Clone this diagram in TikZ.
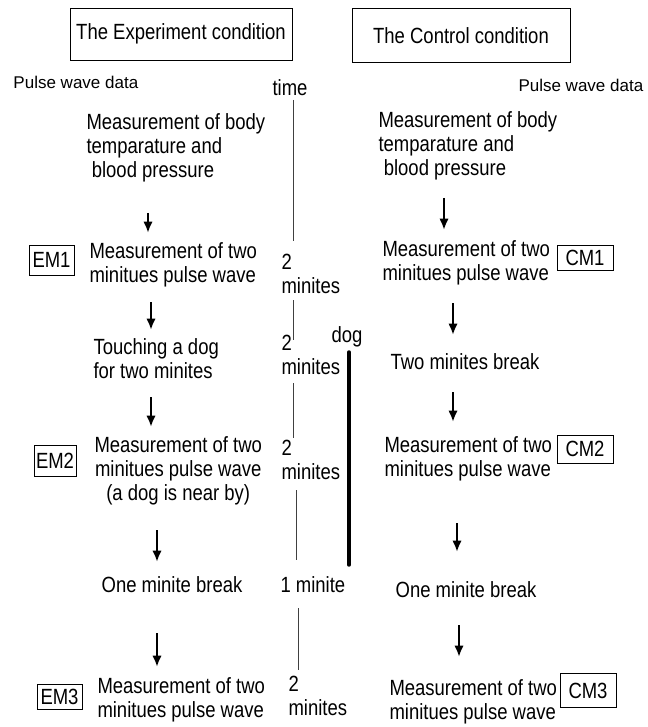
\documentclass[tikz,border=0pt]{standalone}
\usepackage{fontspec}
\setmainfont{Liberation Sans}[FakeStretch=0.84]
\newfontfamily\datafont{Liberation Sans}
\usetikzlibrary{arrows.meta}
\newcommand{\flowfont}{\fontsize{16.5}{18}\selectfont}
\newcommand{\smallfont}{\datafont\fontsize{12.75}{15}\selectfont}
\tikzset{every picture/.style={line width=0.75pt}}
\tikzset{
	steptext/.style={font=\flowfont, inner sep=0pt, align=left, anchor=west},
	breaktext/.style={font=\flowfont, inner sep=0pt},
	titlebox/.style={draw, line width=0.6pt, font=\flowfont, inner sep=0pt},
	markbox/.style={draw, line width=0.6pt, font=\flowfont, inner sep=0pt},
	datalabel/.style={font=\smallfont, inner sep=0pt, anchor=west},
	timetext/.style={font=\flowfont, inner sep=0pt, align=left, anchor=west},
	flowarrow/.style={line width=1.7pt, -{Latex[length=8.5pt,width=7pt]}},
	timeline/.style={line width=0.6pt, black!75},
	dogline/.style={line width=2.6pt, line cap=round}}

\begin{document}
\begin{tikzpicture}[x=0.75pt,y=0.75pt,yscale=-1,xscale=1]
	\useasboundingbox (0,0) rectangle (647,727);

	% Title boxes
	\node[titlebox, minimum width=166.5pt, minimum height=39pt] (expcond) at (181,34) {The Experiment condition};
	\node[titlebox, minimum width=163.5pt, minimum height=41pt] (ctrlcond) at (461,35.5) {The Control condition};

	% Text Node
	\node[datalabel] (ldata) at (13,82) {Pulse wave data};
	\node[datalabel] (rdata) at (518,85) {Pulse wave data};
	\node[breaktext] (time) at (290,88) {time};

	% Experiment condition
	\node[steptext] (lbody) at (86,148) {Measurement of body\\temparature and\\\hspace*{4pt}blood pressure};
	\node[steptext] (lm1) at (89,265) {Measurement of two\\minitues pulse wave};
	\node[steptext] (ltouch) at (93,358.5) {Touching a dog\\for two minites};
	\node[steptext, align=center] (lm2) at (94,471) {Measurement of two\\minitues pulse wave\\(a dog is near by)};
	\node[breaktext] (lbreak) at (172,585) {One minite break};
	\node[steptext] (lm3) at (97,700) {Measurement of two\\minitues pulse wave};

	\node[markbox, minimum width=33.75pt, minimum height=22.5pt] (em1) at (51.5,260) {EM1};
	\node[markbox, minimum width=31.5pt, minimum height=23.25pt] (em2) at (55,460.5) {EM2};
	\node[markbox, minimum width=33.75pt, minimum height=18.75pt] (em3) at (59.5,696.5) {EM3};

	% Control condition
	\node[steptext] (rbody) at (378,146) {Measurement of body\\temparature and\\\hspace*{4pt}blood pressure};
	\node[steptext] (rm1) at (382,263) {Measurement of two\\minitues pulse wave};
	\node[breaktext] (rbreaka) at (465,362) {Two minites break};
	\node[steptext] (rm2) at (384,459) {Measurement of two\\minitues pulse wave};
	\node[breaktext] (rbreakb) at (466,590) {One minite break};
	\node[steptext] (rm3) at (389,702) {Measurement of two\\minitues pulse wave};

	\node[markbox, minimum width=42pt, minimum height=18.75pt] (cm1) at (585,257.5) {CM1};
	\node[markbox, minimum width=42pt, minimum height=21pt] (cm2) at (585,449) {CM2};
	\node[markbox, minimum width=42pt, minimum height=26pt] (cm3) at (588,690.5) {CM3};

	% Time column
	\node[timetext] (tma) at (281,274) {2\\minites};
	\node[timetext] (tmb) at (281,355) {2\\minites};
	\node[timetext] (tmc) at (281,459.5) {2\\minites};
	\node[timetext] (tmd) at (280,585) {1 minite};
	\node[timetext] (tme) at (288,695.5) {2\\minites};
	\node[breaktext] (dog) at (347,337) {dog};

	% Arrow ends
	\coordinate (la1) at (148,213);  \coordinate (lb1) at (148,233);
	\coordinate (la2) at (151,302);  \coordinate (lb2) at (151,330);
	\coordinate (la3) at (151,397);  \coordinate (lb3) at (151,427);
	\coordinate (la4) at (157,530);  \coordinate (lb4) at (157,562);
	\coordinate (la5) at (157,633);  \coordinate (lb5) at (157,667);
	\coordinate (ra1) at (444,198);  \coordinate (rb1) at (444,230);
	\coordinate (ra2) at (453,303);  \coordinate (rb2) at (453,335);
	\coordinate (ra3) at (453,392);  \coordinate (rb3) at (453,422);
	\coordinate (ra4) at (457,523);  \coordinate (rb4) at (457,552);
	\coordinate (ra5) at (459,625);  \coordinate (rb5) at (459,657);

	%Straight Lines
	\foreach \i in {1,...,5}{
		\draw[flowarrow] (la\i) -- (lb\i);
		\draw[flowarrow] (ra\i) -- (rb\i);
	}

	% Time line ends
	\coordinate (ta1) at (293,100);  \coordinate (tb1) at (293,241);
	\coordinate (ta2) at (293,300);  \coordinate (tb2) at (293,340);
	\coordinate (ta3) at (293,383);  \coordinate (tb3) at (293,438);
	\coordinate (ta4) at (296,490);  \coordinate (tb4) at (296,560);
	\coordinate (ta5) at (298,608);  \coordinate (tb5) at (298,670);
	\coordinate (dogtop) at (349,352);  \coordinate (dogend) at (349,565);

	%Straight Lines
	\foreach \i in {1,...,5}{
		\draw[timeline] (ta\i) -- (tb\i);
	}
	\draw[dogline] (dogtop) -- (dogend);

\end{tikzpicture}
\end{document}
